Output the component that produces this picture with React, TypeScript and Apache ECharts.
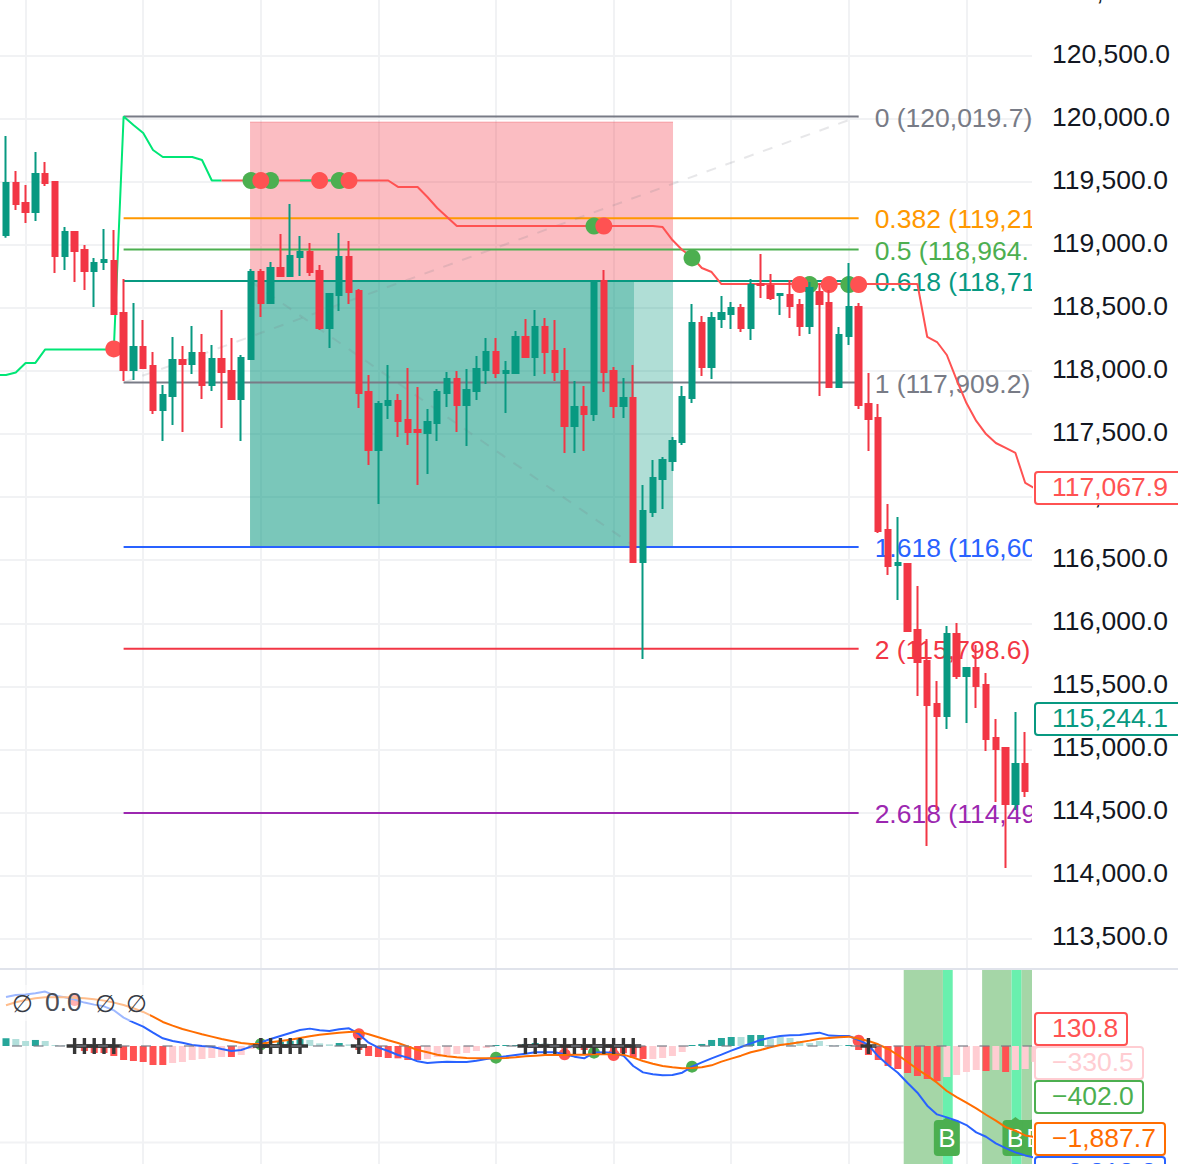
import React, { useEffect, useRef } from 'react';
import * as echarts from 'echarts';

const FONT = '"Liberation Sans"';
const FONT_SIZE = 26.5;
const UP = '#089981';
const DOWN = '#F23645';
const GRID_LINE = '#F1F2F4';

// candle index i sits at value i + X_SHIFT, so that the 12 candle gridlines fall on multiples of 12
const X_SHIFT = 10;
const X_MAX = 114.69;

const opens = [
  119080, 119493, 119334, 119263, 119564, 119501, 118914, 119104, 118961, 118795, 118866, 118874, 118462, 118009,
  118192, 118041, 117692, 117803, 118089, 118057, 118144, 117890, 118097, 118001, 117779, 118097, 118787, 118541,
  118818, 118755, 118906, 118945, 118795, 118343, 118604, 118906, 118636, 117835, 117375, 117732, 117763, 117612,
  117533, 117509, 117588, 117826, 117937, 117731, 117842, 118009, 118152, 117985, 117985, 118271, 118112, 118350,
  118160, 118001, 117565, 117715, 117660, 118715, 118001, 117723, 117787, 116486, 116883, 117144, 117287, 117438,
  117787, 118382, 118033, 118413, 118453, 118501, 118342, 118691, 118675, 118604, 118604, 118524, 118358, 118628,
  118540, 117874, 118279, 118509, 117739, 117628, 116740, 116462, 116470, 115947, 115701, 115360, 115264, 115915,
  115582, 115645, 115510, 115090, 115011, 114566, 114884, 114672,
];
const closes = [
  119493, 119326, 119263, 119564, 119493, 118914, 119104, 118953, 118795, 118858, 118882, 118454, 118009, 118192,
  118025, 117692, 117811, 118089, 118057, 118144, 117890, 118097, 117993, 117779, 118105, 118787, 118541, 118818,
  118755, 118914, 118945, 118787, 118343, 118612, 118906, 118628, 117827, 117375, 117740, 117763, 117604, 117517,
  117517, 117596, 117834, 117937, 117731, 117850, 118017, 118152, 117985, 118001, 118271, 118112, 118350, 118152,
  117993, 117565, 117715, 117660, 118715, 117993, 117723, 117787, 116486, 116890, 117152, 117295, 117446, 117795,
  118382, 118033, 118421, 118461, 118501, 118342, 118683, 118683, 118580, 118612, 118516, 118358, 118659, 118532,
  117874, 118286, 118509, 117731, 117620, 116732, 116454, 116478, 115939, 115693, 115352, 115264, 115915, 115582,
  115645, 115502, 115082, 115003, 114566, 114884, 114669, 115244.1,
];
const lows = [
  119059, 119278, 119175, 119191, 119469, 118779, 118803, 118707, 118644, 118509, 118803, 118454, 117922, 117930,
  118025, 117660, 117446, 117573, 117518, 117978, 117779, 117843, 117549, 117779, 117446, 118097, 118430, 118541,
  118747, 118755, 118755, 118755, 118327, 118184, 118477, 118533, 117708, 117256, 116946, 117621, 117477, 117414,
  117097, 117184, 117446, 117715, 117517, 117406, 117771, 117898, 117945, 117668, 117985, 118112, 117961, 117977,
  117922, 117351, 117351, 117366, 117604, 117834, 117628, 117628, 116478, 115716, 116843, 116906, 117208, 117414,
  117747, 117961, 117937, 118342, 118334, 118310, 118247, 118580, 118564, 118445, 118421, 118279, 118294, 117803,
  117866, 117866, 118207, 117699, 117366, 116716, 116383, 116185, 115939, 115423, 114233, 114519, 115161, 115558,
  115209, 115328, 114987, 114582, 114059, 114519, 114622, 114616,
];
const highs = [
  119865, 119588, 119477, 119739, 119659, 119501, 119144, 119104, 119001, 118898, 119128, 119120, 118731, 118541,
  118406, 118152, 117890, 118271, 118200, 118358, 118295, 118208, 118485, 118263, 118128, 118810, 118810, 118866,
  119088, 119326, 119072, 119017, 118842, 118612, 119096, 119033, 118652, 117970, 117763, 118049, 117818, 118025,
  117874, 117699, 117858, 117993, 118001, 118017, 118120, 118263, 118263, 118080, 118318, 118413, 118485, 118421,
  118405, 118183, 117922, 117882, 118715, 118802, 118033, 117945, 118049, 117097, 117295, 117319, 117477, 117882,
  118532, 118437, 118469, 118596, 118548, 118532, 118731, 118929, 118770, 118620, 118723, 118572, 118707, 118696,
  118643, 118350, 118858, 118540, 117985, 117739, 116946, 116843, 116470, 116295, 115875, 115542, 115978, 116002,
  115653, 115827, 115605, 115241, 115011, 115296, 115137, 115316,
];

// step line above the candles, [candle index, price]
const trendGreen = [
  [-1, 117969], [0, 117969], [1, 117989], [2, 118065], [3, 118065], [4, 118172], [11, 118172], [12, 120020],
  [13, 119952], [14, 119889], [15, 119754], [16, 119699], [19, 119699], [20, 119675], [21, 119512], [22, 119512],
];
const trendGreenBit = [[30, 119512], [35, 119512]];
const trendRed = [
  [22, 119512], [30, 119512], [35, 119512], [39, 119512], [40, 119461], [42, 119461], [43, 119381], [44, 119294],
  [45, 119223], [46, 119151], [66, 119151], [67, 119143], [68, 119040], [69, 118961], [70, 118905], [71, 118818],
  [72, 118786], [73, 118691], [93, 118691], [94, 118271], [95, 118231], [96, 118128], [97, 117930], [98, 117747],
  [99, 117605], [100, 117501], [101, 117430], [102, 117391], [103, 117351], [104, 117113], [105, 117067.9],
];
const priceDotsGreen = [[25, 119512], [27, 119512], [34, 119512], [60, 119151], [70, 118898], [82, 118687], [86, 118687]];
const priceDotsRed = [[11, 118176], [26, 119512], [32, 119512], [35, 119512], [61, 119151], [81, 118687], [84, 118687], [87, 118687]];

const fibPrices = [120019.7, 119213.5, 118964.5, 118715.4, 117909.2, 116604.9, 115798.7, 114494.5];
// the long labels run into the price scale and are cut there, as in the picture
const fibTexts = [
  '0 (120,019.7)', '0.382 (119,21', '0.5 (118,964.', '0.618 (118,71',
  '1 (117,909.2)', '1.618 (116,60', '2 (115,798.6)', '2.618 (114,49',
];
const fibColors = ['#787B86', '#FF9800', '#4CAF50', '#089981', '#787B86', '#2962FF', '#F23645', '#9C27B0'];
const fibFirstCandle = 12;
const fibLastCandle = 87;

const diagonalUp = [[12, 117909.2], [87, 120019.7]];
const diagonalDown = [[24.9, 118715], [64.08, 116613]];

// position tool: candle index range and price range
const boxLeft = 24.9;
const boxRight = 68.06;
const boxFilled = 64.08;
const boxTop = 119976;
const boxEntry = 118715;
const boxStop = 116613;

const macd = [
  1017, 1059, 1066, 1093, 1128, 1045, 1010, 962, 900, 858, 823, 740, 588, 491, 401, 277, 159, 104, 69, 21, 0, -14,
  -62, -104, -83, -14, 76, 145, 208, 270, 332, 360, 325, 311, 346, 367, 249, 69, -35, -104, -187, -242, -318, -353,
  -339, -325, -332, -332, -304, -270, -242, -215, -187, -159, -131, -131, -131, -173, -221, -256, -138, -131, -145,
  -201, -415, -547, -588, -609, -602, -554, -429, -339, -256, -180, -97, -21, 55, 125, 173, 208, 221, 228, 256, 277,
  215, 208, 208, 125, 21, -215, -394, -554, -768, -969, -1239, -1419, -1481, -1550, -1640, -1792, -1882, -2021,
  -2118, -2207, -2270, -2318,
];
const signal = [
  844, 907, 955, 990, 1010, 1010, 1010, 1003, 990, 969, 941, 900, 851, 782, 706, 609, 498, 422, 353, 298, 242, 194,
  145, 104, 62, 42, 42, 76, 104, 131, 166, 201, 235, 256, 277, 291, 298, 242, 180, 118, 62, -7, -83, -131, -180,
  -215, -235, -249, -256, -256, -256, -249, -235, -215, -201, -187, -187, -187, -180, -180, -173, -173, -173, -180,
  -242, -311, -367, -415, -443, -464, -457, -443, -401, -325, -263, -201, -131, -83, -28, 21, 48, 76, 111, 152, 166,
  180, 194, 152, 104, 35, -62, -187, -332, -484, -616, -761, -934, -1059, -1176, -1294, -1426, -1550, -1682, -1758,
  -1855, -1887.7,
];
const histogram = [
  159, 145, 104, 125, 104, 21, 10, -21, -104, -145, -145, -208, -291, -311, -332, -394, -394, -353, -332, -291, -270,
  -249, -228, -228, -187, -62, 21, 42, 90, 104, 145, 125, 55, 35, 62, 35, -83, -208, -228, -249, -256, -291, -291,
  -270, -228, -187, -166, -145, -104, -42, 21, 21, 21, 42, 62, 55, 28, -55, -35, -83, -35, -28, -83, -150, -242, -270,
  -270, -249, -208, -125, 21, 42, 125, 166, 187, 187, 228, 228, 145, 187, 166, 104, 62, 104, 14, 14, 21, -83, -187,
  -291, -415, -477, -560, -623, -685, -727, -644, -602, -540, -498, -519, -498, -540, -498, -477, -330.5,
];
// s = strong bar, l = light bar
const histogramTones = [
  's', 'l', 'l', 's', 'l', 'l', 'l', 's', 's', 's', 's', 's', 's', 's', 's', 's', 's', 'l', 'l', 'l', 'l', 'l', 'l',
  's', 'l', 'l', 's', 's', 's', 's', 's', 'l', 'l', 'l', 's', 'l', 's', 's', 's', 's', 's', 's', 's', 'l', 'l', 'l',
  'l', 'l', 'l', 'l', 's', 's', 's', 's', 's', 'l', 'l', 's', 'l', 's', 'l', 'l', 's', 's', 's', 's', 'l', 'l', 'l',
  'l', 's', 's', 's', 's', 's', 'l', 's', 's', 'l', 'l', 'l', 'l', 'l', 'l', 'l', 'l', 's', 's', 's', 's', 's', 's',
  's', 's', 's', 's', 'l', 'l', 'l', 'l', 's', 'l', 's', 'l', 'l', 'l',
];
const crossCandles = [7, 8, 9, 10, 11, 26, 27, 28, 29, 30, 36, 53, 54, 55, 56, 57, 58, 59, 60, 61, 62, 63, 64, 88];
const paneDotsGreen = [[26, 35], [50, -242], [60, -138], [70, -429]];
const paneDotsRed = [[7, 955], [36, 242], [57, -173], [62, -187], [87, 111]];
const paneGridValue = -2000;
const buyTagCandles = [96, 103, 105];
const buyTagValue = -1909;
// background bands, candle index range
const lightBands = [[91.6, 95.6], [99.6, 102.6], [103.6, 105.6]];
const brightBands = [[95.6, 96.6], [102.6, 103.6]];

const xAt = (i: number) => i + X_SHIFT;
const pairs = (list: number[][]) => list.map(([i, v]) => [xAt(i), v]);
const byCandle = (list: number[]) => list.map((v, i) => [xAt(i), v]);

const tag = (y: number, w: number, color: string, label: string) => ({
  type: 'group',
  z: 60,
  children: [
    { type: 'rect', z: 60, shape: { x: 1035, y, width: w, height: 32, r: 3 }, style: { fill: '#fff', stroke: color, lineWidth: 2 } },
    {
      type: 'text',
      z: 61,
      style: { x: 1052, y: y + 15, text: label, fill: color, font: `${FONT_SIZE}px ${FONT}`, textVerticalAlign: 'middle' },
    },
  ],
});

const App: React.FC = () => {
  const chartRef = useRef<HTMLDivElement>(null);

  useEffect(() => {
    if (!chartRef.current) return;
    const chart = echarts.init(chartRef.current, undefined, { renderer: 'svg' });

    const hiddenX = {
      type: 'value',
      min: 0,
      max: X_MAX,
      interval: 12,
      axisLabel: { show: false },
      axisTick: { show: false },
      axisLine: { show: false },
      splitLine: { show: true, showMaxLine: false, lineStyle: { color: GRID_LINE, width: 2 } },
    };

    const option = {
      animation: false,
      grid: [
        { left: -92, width: 1124, top: -7.07, height: 1008.56, outerBoundsMode: 'none' },
        { left: -92, width: 1124, top: 969, height: 195, outerBoundsMode: 'none' },
      ],
      xAxis: [{ ...hiddenX, gridIndex: 0 }, { ...hiddenX, gridIndex: 1 }],
      yAxis: [
        {
          gridIndex: 0,
          type: 'value',
          position: 'right',
          min: 113000,
          max: 121000,
          interval: 500,
          axisLine: { show: false },
          axisTick: { show: false },
          splitLine: { show: true, showMinLine: false, lineStyle: { color: GRID_LINE, width: 2 } },
          axisLabel: {
            margin: 20,
            showMinLabel: false,
            color: '#131722',
            fontFamily: FONT,
            fontSize: FONT_SIZE,
            // sits a little above its gridline
            verticalAlign: 'bottom',
            lineHeight: 4,
            formatter: (v: number) => v.toLocaleString('en-US', { minimumFractionDigits: 1 }),
          },
        },
        { gridIndex: 1, type: 'value', min: -2448, max: 1597, show: false },
      ],
      series: [
        {
          name: 'fib',
          type: 'custom',
          z: 1,
          clip: true,
          silent: true,
          data: fibPrices.map((p) => [xAt(fibFirstCandle), p, xAt(fibLastCandle)]),
          encode: { x: 0, y: 1 },
          renderItem: (params: any, api: any) => {
            const from = api.coord([api.value(0), api.value(1)]);
            const to = api.coord([api.value(2), api.value(1)]);
            const color = fibColors[params.dataIndex];
            return {
              type: 'group',
              children: [
                { type: 'line', shape: { x1: from[0], y1: from[1], x2: to[0], y2: to[1] }, style: { stroke: color, lineWidth: 2 } },
                {
                  type: 'text',
                  style: {
                    x: to[0] + 16,
                    y: to[1] + 1,
                    text: fibTexts[params.dataIndex],
                    fill: color,
                    font: `${FONT_SIZE}px ${FONT}`,
                    textVerticalAlign: 'middle',
                  },
                },
              ],
            };
          },
        },
        {
          name: 'box',
          type: 'line',
          z: 2,
          data: [],
          markArea: {
            silent: true,
            data: [
              [
                { coord: [xAt(boxLeft), boxTop], itemStyle: { color: 'rgba(242,54,69,0.33)' } },
                { coord: [xAt(boxRight), boxEntry] },
              ],
              [
                { coord: [xAt(boxLeft), boxEntry], itemStyle: { color: 'rgba(8,153,129,0.32)' } },
                { coord: [xAt(boxRight), boxStop] },
              ],
              [
                { coord: [xAt(boxLeft), boxEntry], itemStyle: { color: 'rgba(8,153,129,0.32)' } },
                { coord: [xAt(boxFilled), boxStop] },
              ],
            ],
          },
        },
        {
          name: 'box top edge',
          type: 'line',
          z: 2,
          silent: true,
          symbol: 'none',
          data: [[xAt(boxLeft), boxTop], [xAt(boxRight), boxTop]],
          lineStyle: { color: 'rgba(242,54,69,0.3)', width: 1 },
        },
        ...[diagonalUp, diagonalDown].map((d) => ({
          type: 'line',
          z: 3,
          silent: true,
          symbol: 'none',
          data: pairs(d),
          lineStyle: { color: 'rgba(120,123,134,0.18)', width: 2, type: [10, 10] },
        })),
        {
          type: 'line',
          z: 4,
          symbol: 'none',
          data: pairs(trendGreen),
          lineStyle: { color: '#00E676', width: 2 },
        },
        {
          type: 'line',
          z: 4,
          symbol: 'none',
          data: pairs(trendRed),
          lineStyle: { color: '#FF5252', width: 2 },
        },
        {
          type: 'line',
          z: 4,
          symbol: 'none',
          data: pairs(trendGreenBit),
          lineStyle: { color: '#00E676', width: 2 },
        },
        {
          type: 'scatter',
          z: 5,
          symbolSize: 17,
          data: pairs(priceDotsGreen),
          itemStyle: { color: '#4CAF50', opacity: 1 },
        },
        {
          type: 'scatter',
          z: 5,
          symbolSize: 17,
          data: pairs(priceDotsRed),
          itemStyle: { color: '#FF5252', opacity: 1 },
        },
        {
          type: 'candlestick',
          z: 6,
          barWidth: 6,
          encode: { x: 0, y: [1, 2, 3, 4] },
          data: opens.map((o, i) => [xAt(i), o, closes[i], lows[i], highs[i]]),
          itemStyle: { color: UP, color0: DOWN, borderColor: UP, borderColor0: DOWN, borderWidth: 2 },
        },

        // lower pane
        {
          type: 'line',
          xAxisIndex: 1,
          yAxisIndex: 1,
          z: 0,
          symbol: 'none',
          data: [[0, paneGridValue], [X_MAX, paneGridValue]],
          lineStyle: { color: GRID_LINE, width: 2 },
        },
        {
          name: 'bands',
          type: 'line',
          xAxisIndex: 1,
          yAxisIndex: 1,
          z: 1,
          data: [],
          markArea: {
            silent: true,
            data: [
              ...lightBands.map(([a, b]) => [
                { coord: [xAt(a), -2448], itemStyle: { color: '#A5D6A7' } },
                { coord: [xAt(b), 1597] },
              ]),
              ...brightBands.map(([a, b]) => [
                { coord: [xAt(a), -2448], itemStyle: { color: '#69F0AE' } },
                { coord: [xAt(b), 1597] },
              ]),
            ],
          },
        },
        {
          type: 'custom',
          xAxisIndex: 1,
          yAxisIndex: 1,
          z: 2,
          clip: true,
          silent: true,
          data: buyTagCandles.map((c) => [xAt(c), buyTagValue]),
          encode: { x: 0, y: 1 },
          renderItem: (_: any, api: any) => {
            const p = api.coord([api.value(0), api.value(1)]);
            return {
              type: 'group',
              children: [
                { type: 'rect', shape: { x: p[0] - 13, y: p[1] - 18, width: 26, height: 36, r: 4 }, style: { fill: '#4CAF50' } },
                {
                  type: 'polygon',
                  shape: { points: [[p[0] - 4, p[1] - 18], [p[0], p[1] - 21], [p[0] + 4, p[1] - 18]] },
                  style: { fill: '#4CAF50' },
                },
                {
                  type: 'text',
                  style: {
                    x: p[0],
                    y: p[1],
                    text: 'B',
                    fill: '#fff',
                    font: `26px ${FONT}`,
                    textAlign: 'center',
                    textVerticalAlign: 'middle',
                  },
                },
              ],
            };
          },
        },
        {
          type: 'bar',
          xAxisIndex: 1,
          yAxisIndex: 1,
          z: 3,
          barWidth: 7,
          data: histogram.map((v, i) => ({
            value: [xAt(i), v],
            itemStyle: {
              color: v >= 0
                ? (histogramTones[i] === 's' ? '#26A69A' : '#B2DFDB')
                : (histogramTones[i] === 's' ? '#FF5252' : '#FFCDD2'),
            },
          })),
        },
        {
          type: 'scatter',
          xAxisIndex: 1,
          yAxisIndex: 1,
          z: 4,
          symbolSize: 12,
          data: pairs(paneDotsGreen),
          itemStyle: { color: '#4CAF50', opacity: 1 },
        },
        {
          type: 'scatter',
          xAxisIndex: 1,
          yAxisIndex: 1,
          z: 4,
          symbolSize: 12,
          data: pairs(paneDotsRed),
          itemStyle: { color: '#FF5252', opacity: 1 },
        },
        {
          type: 'line',
          xAxisIndex: 1,
          yAxisIndex: 1,
          z: 5,
          symbol: 'none',
          data: byCandle(macd),
          lineStyle: { color: '#2962FF', width: 2 },
        },
        {
          type: 'line',
          xAxisIndex: 1,
          yAxisIndex: 1,
          z: 5,
          symbol: 'none',
          data: byCandle(signal),
          lineStyle: { color: '#FF6D00', width: 2 },
        },
        {
          type: 'scatter',
          xAxisIndex: 1,
          yAxisIndex: 1,
          z: 6,
          symbol: 'path://M6.3 0h3.4v6.3h6.3v3.4h-6.3v6.3h-3.4v-6.3h-6.3v-3.4h6.3z',
          symbolSize: 16,
          data: crossCandles.map((c) => [xAt(c), 0]),
          itemStyle: { color: '#363636', opacity: 1 },
        },
        {
          type: 'line',
          xAxisIndex: 1,
          yAxisIndex: 1,
          z: 7,
          symbol: 'none',
          data: [[xAt(0.61), 0], [X_MAX, 0]],
          lineStyle: { color: 'rgba(120,123,134,0.6)', width: 2, type: [10, 11.5] },
        },
      ],
      graphic: [
        { type: 'rect', z: 50, shape: { x: 0, y: 968, width: 1178, height: 2 }, style: { fill: '#E0E3EB' } },
        { type: 'rect', z: 50, shape: { x: 0, y: 985, width: 150, height: 36 }, style: { fill: 'rgba(255,255,255,0.55)' } },
        { type: 'text', z: 51, style: { x: 12, y: 1003, text: '∅', fill: '#363A45', font: `24px ${FONT}`, textVerticalAlign: 'middle' } },
        { type: 'text', z: 51, style: { x: 45, y: 1002, text: '0.0', fill: '#4A4D57', font: `${FONT_SIZE}px ${FONT}`, textVerticalAlign: 'middle' } },
        { type: 'text', z: 51, style: { x: 95, y: 1003, text: '∅', fill: '#363A45', font: `24px ${FONT}`, textVerticalAlign: 'middle' } },
        { type: 'text', z: 51, style: { x: 126, y: 1003, text: '∅', fill: '#363A45', font: `24px ${FONT}`, textVerticalAlign: 'middle' } },
        tag(472, 150, '#FF5252', '117,067.9'),
        tag(703, 150, '#089981', '115,244.1'),
        tag(1013, 92, '#FF5252', '130.8'),
        tag(1047, 108, '#FFCDD2', '−330.5'),
        tag(1081, 108, '#4CAF50', '−402.0'),
        tag(1157, 130, '#2962FF', '−2,318.2'),
        tag(1123, 130, '#FF6D00', '−1,887.7'),
      ],
    };

    chart.setOption(option);

    return () => {
      chart.dispose();
    };
  }, []);

  return <div ref={chartRef} style={{ position: 'absolute', left: 0, top: 0, width: 1178, height: 1164 }} />;
};

export default App;
